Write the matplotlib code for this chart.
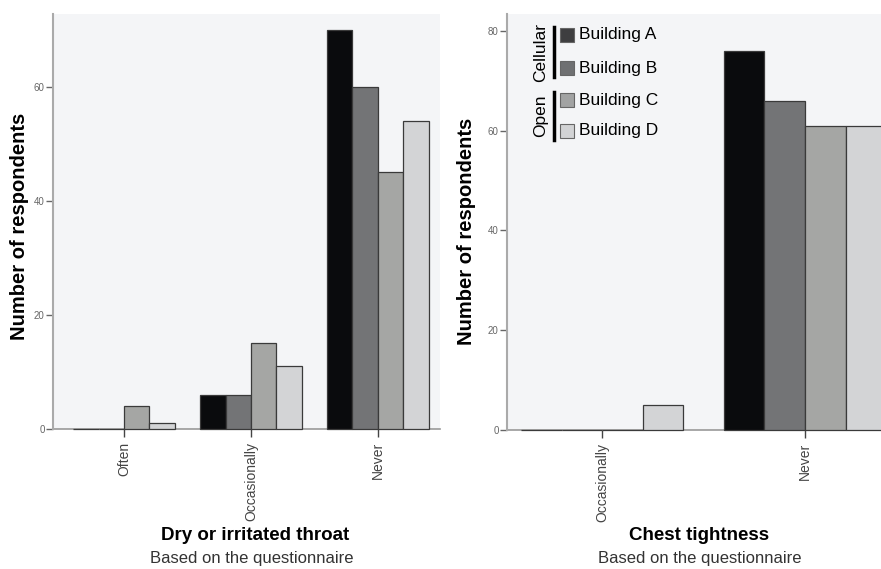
import numpy as np
import matplotlib.pyplot as plt
from matplotlib.patches import Rectangle
from matplotlib.lines import Line2D

plt.rcParams['font.family'] = ['Liberation Sans', 'DejaVu Sans']

# Data
buildings = ['Building A', 'Building B', 'Building C', 'Building D']
colors = ['#0a0b0d', '#737476', '#a5a6a4', '#d3d4d6']
legend_colors = ['#3e3e40', '#6f7072', '#a2a3a3', '#d2d3d5']

throat_cats = ['Often', 'Occasionally', 'Never']
throat_vals = [[0, 6, 70],    # Building A
               [0, 6, 60],    # Building B
               [4, 15, 45],   # Building C
               [1, 11, 54]]   # Building D

chest_cats = ['Occasionally', 'Never']
chest_vals = [[0, 76],
              [0, 66],
              [0, 61],
              [5, 61]]

W, H = 881, 569
fig = plt.figure(figsize=(W / 100, H / 100), dpi=100)


def px(x0, y0, x1, y1):
    # pixel box -> figure fraction [left, bottom, width, height]
    return [x0 / W, 1 - y1 / H, (x1 - x0) / W, (y1 - y0) / H]


def draw_panel(ax, cats, vals, ymax, yticks, xlim):
    n = len(vals)
    width = 0.2
    x = np.arange(len(cats))
    for i in range(n):
        ax.bar(x + (i - (n - 1) / 2) * width, vals[i], width=width,
               color=colors[i], edgecolor='#3a3a3a', linewidth=0.9, zorder=3,
               clip_on=False)
    ax.set_facecolor('#f4f5f7')
    ax.set_xlim(*xlim)
    ax.set_ylim(0, ymax)
    ax.set_yticks(yticks)
    ax.set_xticks(x)
    ax.set_xticklabels(cats, rotation=90, fontsize=10, color='#333333')
    ax.tick_params(axis='y', labelsize=7, colors='#666666', length=5, width=1, pad=1)
    ax.tick_params(axis='x', length=6, width=1, colors='#444444')
    for s in ['top', 'right']:
        ax.spines[s].set_visible(False)
    ax.spines['left'].set_color('#aaaaaa')
    ax.spines['left'].set_linewidth(1.5)
    ax.spines['bottom'].set_color('#999999')
    ax.spines['bottom'].set_linewidth(1.2)
    ax.spines['bottom'].set_zorder(2)


ax1 = fig.add_axes(px(53, 14, 440, 429))
draw_panel(ax1, throat_cats, throat_vals, 72.8, [0, 20, 40, 60], (-0.56, 2.49))

ax2 = fig.add_axes(px(507, 14, 881, 430))
draw_panel(ax2, chest_cats, chest_vals, 83.4, [0, 20, 40, 60, 80], (-0.47, 1.375))

# Y labels
fig.text(20 / W, 1 - 226 / H, 'Number of respondents', rotation=90, ha='center',
         va='center', fontsize=14.5, fontweight='bold')
fig.text(467 / W, 1 - 231 / H, 'Number of respondents', rotation=90, ha='center',
         va='center', fontsize=14.5, fontweight='bold')

# Titles under the axes
fig.text(255 / W, 1 - 535 / H, 'Dry or irritated throat', ha='center', va='center',
         fontsize=13.5, fontweight='bold')
fig.text(252 / W, 1 - 559 / H, 'Based on the questionnaire', ha='center', va='center',
         fontsize=12, color='#333333')
fig.text(699 / W, 1 - 535 / H, 'Chest tightness', ha='center', va='center',
         fontsize=13.5, fontweight='bold')
fig.text(700 / W, 1 - 559 / H, 'Based on the questionnaire', ha='center', va='center',
         fontsize=12, color='#333333')

# Grouped legend in the right panel
rows_y = [35, 68, 100, 131]
for name, c, yc in zip(buildings, legend_colors, rows_y):
    fig.patches.append(Rectangle((560 / W, 1 - (yc + 7) / H), 14 / W, 14 / H,
                                 transform=fig.transFigure, facecolor=c,
                                 edgecolor='#666666', linewidth=0.8))
    fig.text(579 / W, 1 - yc / H, name, ha='left', va='center', fontsize=12.5)

for label, y0, y1 in [('Cellular', 27, 77), ('Open', 92, 140)]:
    fig.lines.append(Line2D([554 / W, 554 / W], [1 - y0 / H, 1 - y1 / H],
                            transform=fig.transFigure, color='black', linewidth=2.5))
    fig.text(541 / W, 1 - (y0 + y1) / 2 / H, label, rotation=90, ha='center',
             va='center', fontsize=12.5)

fig.savefig('out.png', dpi=100)
